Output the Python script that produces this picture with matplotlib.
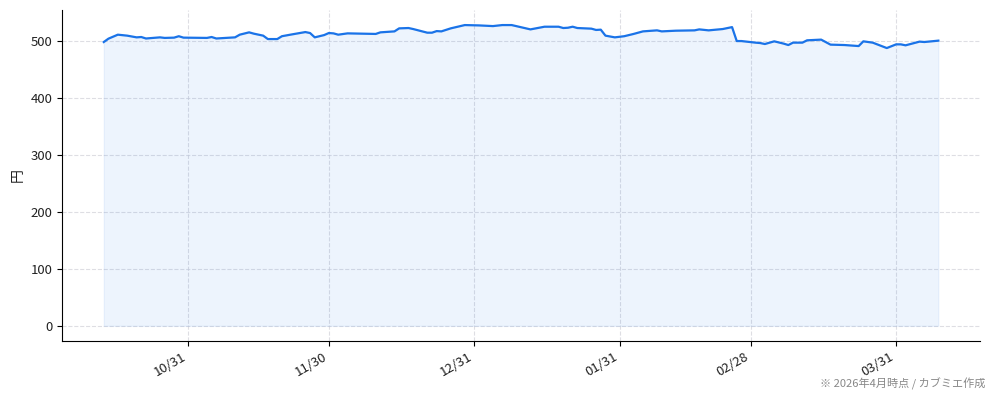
import matplotlib
matplotlib.use("Agg")
import matplotlib.pyplot as plt
import matplotlib.dates as mdates
import pandas as pd

plt.rcParams['font.family'] = ['Noto Sans CJK JP', 'DejaVu Sans']

# price (vertices)
dates = [
    '2025-10-13', '2025-10-14', '2025-10-16', '2025-10-18', '2025-10-20', '2025-10-21',
    '2025-10-22', '2025-10-25', '2025-10-26', '2025-10-28', '2025-10-29', '2025-10-30',
    '2025-11-04', '2025-11-05', '2025-11-06', '2025-11-10', '2025-11-11', '2025-11-13',
    '2025-11-14', '2025-11-16', '2025-11-17', '2025-11-19', '2025-11-20', '2025-11-22',
    '2025-11-25', '2025-11-26', '2025-11-27', '2025-11-29', '2025-11-30', '2025-12-01',
    '2025-12-02', '2025-12-04', '2025-12-07', '2025-12-10', '2025-12-11', '2025-12-14',
    '2025-12-15', '2025-12-17', '2025-12-18', '2025-12-21', '2025-12-22', '2025-12-23',
    '2025-12-24', '2025-12-26', '2025-12-29', '2026-01-01', '2026-01-04', '2026-01-06',
    '2026-01-08', '2026-01-12', '2026-01-15', '2026-01-18', '2026-01-19', '2026-01-20',
    '2026-01-21', '2026-01-22', '2026-01-25', '2026-01-26', '2026-01-27', '2026-01-28',
    '2026-01-30', '2026-02-01', '2026-02-03', '2026-02-05', '2026-02-08', '2026-02-09',
    '2026-02-12', '2026-02-16', '2026-02-17', '2026-02-19', '2026-02-22', '2026-02-24',
    '2026-02-25', '2026-02-26', '2026-03-01', '2026-03-02', '2026-03-03', '2026-03-05',
    '2026-03-07', '2026-03-08', '2026-03-09', '2026-03-11', '2026-03-12', '2026-03-15',
    '2026-03-17', '2026-03-20', '2026-03-23', '2026-03-24', '2026-03-26', '2026-03-29',
    '2026-03-31', '2026-04-01', '2026-04-02', '2026-04-05', '2026-04-06', '2026-04-09',
]
prices = [
    498.8, 504.7, 511.7, 510.0, 507.0, 507.6,
    505.0, 507.0, 506.0, 506.5, 509.0, 506.5,
    506.0, 507.6, 505.0, 507.0, 511.7, 515.8,
    513.5, 510.0, 504.0, 504.0, 509.0, 512.0,
    516.3, 514.6, 507.0, 511.0, 514.6, 514.0,
    511.7, 514.0, 513.5, 513.0, 515.8, 517.5,
    522.8, 523.4, 521.6, 515.2, 515.2, 518.0,
    517.5, 522.8, 528.6, 528.0, 526.8, 528.6,
    528.6, 521.0, 525.7, 525.7, 523.4, 523.9,
    525.7, 523.4, 522.3, 520.0, 520.5, 510.0,
    507.0, 509.0, 513.0, 517.5, 519.3, 517.5,
    518.7, 519.3, 521.0, 519.3, 521.6, 525.0,
    500.5, 500.5, 497.7, 497.0, 495.3, 500.0,
    496.0, 493.5, 497.7, 497.7, 501.8, 503.0,
    494.2, 493.5, 491.7, 500.0, 497.7, 488.2,
    494.7, 494.7, 493.0, 499.5, 498.8, 501.2,
]
ticks = ['2025-10-31', '2025-11-30', '2025-12-31', '2026-01-31', '2026-02-28', '2026-03-31']

x = pd.to_datetime(dates)

fig = plt.figure(figsize=(9.94, 4.01), dpi=100)
ax = fig.add_axes([0.0624, 0.15, 0.9236, 0.825])

ax.fill_between(x, prices, 0, color='#1a73e8', alpha=0.08, linewidth=0.8)
ax.plot(x, prices, color='#1a73e8', linewidth=1.6)

ax.set_xticks(pd.to_datetime(ticks))
ax.xaxis.set_major_formatter(mdates.DateFormatter('%m/%d'))
plt.setp(ax.get_xticklabels(), rotation=30, ha='right')
ax.set_yticks([0, 100, 200, 300, 400, 500])
ax.tick_params(labelsize=9.5, labelcolor='#222222')

ax.grid(True, linestyle='--', color='#d0d0d8', alpha=0.7, linewidth=0.8)
ax.set_axisbelow(True)
ax.spines['top'].set_visible(False)
ax.spines['right'].set_visible(False)
ax.set_ylabel('円', fontsize=10, color='#222222')

fig.text(0.991, 0.028, '※ 2026年4月時点 / カブミエ作成', ha='right', va='bottom',
         fontsize=8, color='#888888')

fig.savefig('out.png', dpi=100)
